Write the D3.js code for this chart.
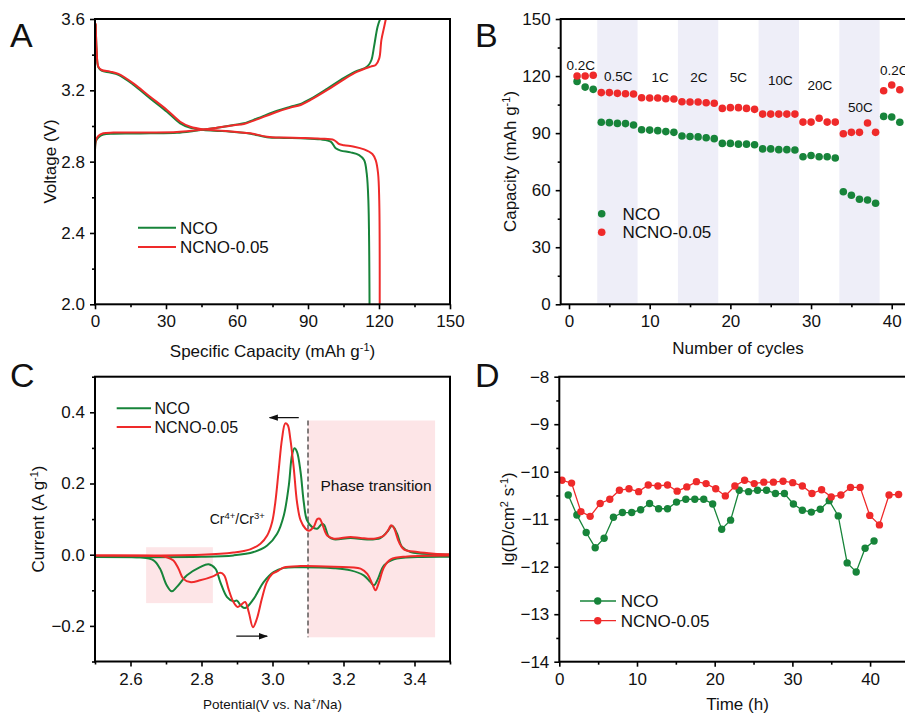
<!DOCTYPE html>
<html>
<head>
<meta charset="utf-8">
<script src="https://cdn.jsdelivr.net/npm/d3@7"></script>
<style>
body { margin: 0; background: #fff; }
svg { font-family: "Liberation Sans", Arial, sans-serif; }
</style>
</head>
<body>
<svg id="fig" width="905" height="715"></svg>
<script>
const GREEN = '#17843a';
const RED = '#ef2a2a';
const seriesNames = ['NCO', 'NCNO-0.05'];

// ---- panel A: charge / discharge profiles [capacity, voltage]
const dischargeNCO = [[0.3,3.57],[0.7,3.42],[1.4,3.33],[2.8,3.31],[6.4,3.30],[9.9,3.287],[16.2,3.232],[23.3,3.155],[30.4,3.08],[36.0,3.015],[40.3,2.99],[45.9,2.978],[53,2.972],[60,2.965],[65.7,2.957],[72.7,2.937],[79.8,2.933],[86.9,2.931],[95.3,2.925],[99.6,2.912],[101.7,2.875],[103.8,2.862],[108,2.852],[111.6,2.837],[113.7,2.809],[114.8,2.735],[115.5,2.585],[116,2.0]];
const dischargeNCNO = [[0.3,3.576],[0.7,3.426],[1.4,3.333],[2.8,3.314],[6.4,3.305],[9.9,3.292],[16.2,3.239],[23.3,3.164],[30.4,3.09],[36.0,3.024],[40.3,2.996],[45.9,2.981],[53,2.974],[60,2.966],[65.7,2.959],[72.7,2.94],[79.8,2.935],[86.9,2.933],[95.3,2.929],[101,2.921],[103.1,2.899],[105.2,2.892],[109.5,2.884],[113.7,2.869],[117.2,2.843],[118.6,2.809],[119.6,2.735],[120.1,2.585],[120.3,2.0]];
const chargeNCO = [[0,2.86],[0.4,2.915],[1.4,2.935],[3.5,2.952],[7.8,2.957],[16.2,2.958],[23.3,2.959],[34.6,2.962],[41.7,2.972],[50.1,2.987],[58.6,3.006],[62.9,3.015],[68.5,3.042],[77,3.086],[82.6,3.108],[86.9,3.124],[91.1,3.152],[98.2,3.21],[105.2,3.27],[110.9,3.31],[114,3.325],[115.5,3.34],[116.8,3.37],[117.9,3.445],[119.4,3.557],[120.5,3.6]];
const chargeNCNO = [[0,2.86],[0.4,2.921],[1.4,2.944],[3.5,2.959],[7.8,2.963],[16.2,2.964],[23.3,2.964],[34.6,2.966],[41.7,2.974],[50.1,2.987],[58.6,3.004],[62.9,3.011],[68.5,3.037],[77,3.08],[82.6,3.103],[86.9,3.118],[91.1,3.146],[98.2,3.202],[105.2,3.262],[110.9,3.305],[116.5,3.333],[118.6,3.342],[120.1,3.379],[121,3.482],[122.2,3.557],[122.9,3.6]];

// ---- panel B: rate capability
const cycles = d3.range(1, 42);
const rateNCO = [117.2,114.2,113.0, 95.7,95.5,95.1,95.0,94.3, 91.8,91.6,91.3,90.8,90.4, 88.5,88.2,88.0,87.6,87.1, 84.6,84.6,84.2,84.2,83.9, 81.7,81.7,81.3,81.3,81.1, 77.6,78.2,77.6,77.6,76.9, 59.2,57.3,55.2,54.8,53.1, 98.8,98.5,95.7];
const rateNCNO = [120.0,120.0,120.4, 111.3,111.3,110.9,110.7,110.6, 108.6,108.5,108.5,108.1,107.9, 106.5,106.4,106.4,106.0,105.7, 103.0,103.4,103.4,103.0,102.5, 100,100,100,100,100, 95.8,95.8,97.8,95.8,95.8, 89.7,90.4,90.4,95.3,90.4, 112.3,115.3,112.8];
const rateBands = [[3.5,8.5],[13.5,18.5],[23.5,28.5],[33.5,38.5]];
const rateLabels = ['0.2C','0.5C','1C','2C','5C','10C','20C','50C','0.2C'];
const rateLabelPos = [[1.45,125.8],[6.1,120.0],[11.3,119.1],[16.1,119.1],[21.0,119.1],[26.2,117.8],[31.1,114.9],[36.1,103.4],[40.3,123.2]];

// ---- panel C: CV curves [potential, current]
const cvUpNCO = [[2.5,-0.0066],[2.8,-0.006],[2.89,-0.002],[2.947,0.0075],[2.985,0.026],[3.013,0.059],[3.032,0.111],[3.046,0.195],[3.055,0.28],[3.062,0.299],[3.069,0.289],[3.079,0.233],[3.088,0.148],[3.097,0.097],[3.111,0.078],[3.126,0.073],[3.14,0.087],[3.146,0.083],[3.159,0.05],[3.173,0.043],[3.22,0.047],[3.267,0.043],[3.304,0.047],[3.323,0.064],[3.337,0.081],[3.351,0.059],[3.365,0.022],[3.389,0.0075],[3.455,0.001],[3.5,0.0]];
const cvUpNCNO = [[2.5,-0.002],[2.8,0.0],[2.89,0.006],[2.937,0.015],[2.966,0.031],[2.985,0.054],[2.999,0.092],[3.008,0.148],[3.017,0.233],[3.027,0.327],[3.036,0.369],[3.043,0.364],[3.05,0.327],[3.06,0.242],[3.069,0.148],[3.079,0.097],[3.093,0.073],[3.102,0.067],[3.116,0.078],[3.126,0.1],[3.133,0.101],[3.14,0.087],[3.154,0.054],[3.173,0.045],[3.22,0.05],[3.248,0.047],[3.286,0.045],[3.314,0.054],[3.328,0.073],[3.334,0.083],[3.342,0.075],[3.356,0.036],[3.37,0.015],[3.408,0.0075],[3.455,0.003],[3.5,0.001]];
const cvDownNCO = [[2.5,-0.0066],[2.627,-0.0075],[2.665,-0.016],[2.683,-0.039],[2.702,-0.086],[2.716,-0.103],[2.73,-0.091],[2.759,-0.058],[2.796,-0.035],[2.82,-0.027],[2.839,-0.039],[2.853,-0.077],[2.872,-0.119],[2.89,-0.131],[2.9,-0.129],[2.911,-0.143],[2.923,-0.15],[2.947,-0.124],[2.975,-0.077],[3.003,-0.049],[3.032,-0.037],[3.079,-0.035],[3.173,-0.038],[3.22,-0.044],[3.257,-0.058],[3.276,-0.077],[3.286,-0.086],[3.297,-0.068],[3.314,-0.03],[3.342,-0.013],[3.408,-0.0066],[3.5,-0.0056]];
const cvDownNCNO = [[2.5,-0.002],[2.683,-0.004],[2.702,-0.007],[2.721,-0.016],[2.735,-0.039],[2.749,-0.068],[2.768,-0.077],[2.796,-0.072],[2.834,-0.06],[2.853,-0.051],[2.864,-0.058],[2.876,-0.096],[2.89,-0.133],[2.902,-0.147],[2.911,-0.141],[2.923,-0.133],[2.933,-0.161],[2.945,-0.204],[2.956,-0.18],[2.97,-0.124],[2.984,-0.077],[2.999,-0.054],[3.013,-0.047],[3.032,-0.036],[3.079,-0.032],[3.173,-0.034],[3.248,-0.039],[3.267,-0.054],[3.281,-0.082],[3.29,-0.1],[3.3,-0.077],[3.314,-0.035],[3.333,-0.013],[3.38,-0.005],[3.5,-0.002]];

// ---- panel D: diffusion coefficient
const timeNCO = [1.15,2.26,3.46,4.62,5.77,6.97,8.12,9.32,10.47,11.62,12.78,13.93,15.09,16.28,17.44,18.59,19.74,20.9,22.05,23.16,24.36,25.51,26.67,27.82,28.97,30.13,31.28,32.44,33.59,34.74,35.9,37.05,38.21,39.36,40.51];
const lgDNCO = [-10.49,-10.91,-11.28,-11.6,-11.4,-10.96,-10.86,-10.86,-10.8,-10.67,-10.78,-10.78,-10.64,-10.58,-10.58,-10.58,-10.68,-11.21,-11.02,-10.39,-10.42,-10.39,-10.39,-10.46,-10.46,-10.68,-10.81,-10.85,-10.79,-10.61,-10.93,-11.92,-12.11,-11.61,-11.46];
const timeNCNO = [0.34,1.58,2.78,3.97,5.26,6.5,7.74,8.97,10.21,11.45,12.69,13.93,15.17,16.41,17.65,18.89,20.13,21.37,22.6,23.85,25.09,26.32,27.56,28.8,30.04,31.28,32.52,33.76,35.0,36.24,37.48,38.72,39.96,41.2,42.44,43.67];
const lgDNCNO = [-10.18,-10.24,-10.84,-10.94,-10.67,-10.58,-10.39,-10.36,-10.42,-10.28,-10.3,-10.28,-10.41,-10.32,-10.21,-10.25,-10.36,-10.51,-10.3,-10.18,-10.25,-10.22,-10.22,-10.2,-10.23,-10.3,-10.46,-10.38,-10.53,-10.49,-10.33,-10.33,-10.92,-11.12,-10.49,-10.48];

const svg = d3.select('#fig');
svg.append('rect').attr('width', 905).attr('height', 715).attr('fill', '#fff');

const defs = svg.append('defs');
defs.append('marker').attr('id', 'arrow')
    .attr('viewBox', '0 0 10 10').attr('refX', 9).attr('refY', 5)
    .attr('markerWidth', 7).attr('markerHeight', 7).attr('orient', 'auto')
    .append('path').attr('d', 'M0,1.5 L10,5 L0,8.5 Z').attr('fill', '#111');

function panel(o) {
    const x = d3.scaleLinear().domain(o.xd).range([o.l, o.r]);
    const y = d3.scaleLinear().domain(o.yd).range([o.b, o.t]);
    defs.append('clipPath').attr('id', 'clip' + o.name)
        .append('rect').attr('x', o.l).attr('y', o.t)
        .attr('width', o.r - o.l).attr('height', o.b - o.t);
    const back = svg.append('g');
    const plot = svg.append('g').attr('clip-path', `url(#clip${o.name})`);
    const axes = svg.append('g');

    axes.append('g').attr('transform', `translate(0,${o.b})`)
        .call(d3.axisBottom(x).tickValues(o.xminor).tickSize(3).tickFormat(''));
    axes.append('g').attr('transform', `translate(0,${o.b})`)
        .call(d3.axisBottom(x).tickValues(o.xmajor).tickSize(5).tickPadding(6).tickFormat(o.xfmt));
    axes.append('g').attr('transform', `translate(${o.l},0)`)
        .call(d3.axisLeft(y).tickValues(o.yminor).tickSize(3).tickFormat(''));
    axes.append('g').attr('transform', `translate(${o.l},0)`)
        .call(d3.axisLeft(y).tickValues(o.ymajor).tickSize(5).tickPadding(5).tickFormat(o.yfmt));
    axes.selectAll('.domain').remove();
    axes.selectAll('.tick line').attr('stroke', '#000').attr('stroke-width', 1.6);
    axes.selectAll('.tick text').attr('fill', '#111').style('font-size', '17px')
        .style('font-family', '"Liberation Sans", Arial, sans-serif');

    axes.append('rect').attr('x', o.l).attr('y', o.t)
        .attr('width', o.r - o.l).attr('height', o.b - o.t)
        .attr('fill', 'none').attr('stroke', '#000').attr('stroke-width', 2);

    svg.append('text').attr('x', o.letter[0]).attr('y', o.letter[1])
        .style('font-size', '34px').attr('fill', '#111').text(o.name);
    return { x, y, back, plot, axes };
}

function superText(sel, parts, size) {
    parts.forEach(p => {
        if (typeof p === 'string') {
            sel.append('tspan').text(p);
        } else {
            sel.append('tspan').attr('baseline-shift', 'super')
                .style('font-size', size).text(p.sup);
        }
    });
}

// ================= A =================
const A = panel({
    name: 'A', l: 95, r: 450, t: 19, b: 304.3, xd: [0, 150], yd: [2.0, 3.6],
    xmajor: d3.range(0, 151, 30), xminor: d3.range(15, 150, 30), xfmt: d3.format('d'),
    ymajor: [2.0, 2.4, 2.8, 3.2, 3.6], yminor: [2.2, 2.6, 3.0, 3.4], yfmt: d3.format('.1f'),
    letter: [10, 47]
});
const lineA = d3.line().x(d => A.x(d[0])).y(d => A.y(d[1])).curve(d3.curveCatmullRom.alpha(0.5));
[[dischargeNCO, GREEN], [chargeNCO, GREEN], [dischargeNCNO, RED], [chargeNCNO, RED]].forEach(([d, c]) => {
    A.plot.append('path').datum(d).attr('d', lineA).attr('fill', 'none')
        .attr('stroke', c).attr('stroke-width', 2);
});
superText(svg.append('text').attr('x', 272.5).attr('y', 357).attr('text-anchor', 'middle')
    .style('font-size', '17px').attr('fill', '#111'), ['Specific Capacity (mAh g', { sup: '-1' }, ')'], '11px');
svg.append('text').attr('transform', 'translate(56,161.5) rotate(-90)').attr('text-anchor', 'middle')
    .style('font-size', '17px').attr('fill', '#111').text('Voltage (V)');
[[GREEN, 227.7], [RED, 247]].forEach(([c, yy], i) => {
    svg.append('line').attr('x1', 138).attr('x2', 176).attr('y1', yy).attr('y2', yy)
        .attr('stroke', c).attr('stroke-width', 2);
    svg.append('text').attr('x', 180).attr('y', yy + 6).style('font-size', '17px')
        .attr('fill', '#111').text(seriesNames[i]);
});

// ================= B =================
const B = panel({
    name: 'B', l: 560.7, r: 924, t: 19, b: 304.3, xd: [-1.03, 44], yd: [0, 150],
    xmajor: d3.range(0, 41, 10), xminor: d3.range(5, 45, 10), xfmt: d3.format('d'),
    ymajor: d3.range(0, 151, 30), yminor: d3.range(15, 150, 30), yfmt: d3.format('d'),
    letter: [475, 47]
});
B.back.selectAll('rect').data(rateBands).join('rect')
    .attr('x', d => B.x(d[0])).attr('width', d => B.x(d[1]) - B.x(d[0]))
    .attr('y', B.y(150)).attr('height', B.y(0) - B.y(150)).attr('fill', '#eeeef8');
B.plot.selectAll('.rn').data(cycles).join('circle').attr('class', 'rn')
    .attr('cx', d => B.x(d)).attr('cy', (d, i) => B.y(rateNCO[i])).attr('r', 3.8).attr('fill', GREEN);
B.plot.selectAll('.rr').data(cycles).join('circle').attr('class', 'rr')
    .attr('cx', d => B.x(d)).attr('cy', (d, i) => B.y(rateNCNO[i])).attr('r', 3.8).attr('fill', RED);
B.plot.selectAll('.rl').data(rateLabels).join('text').attr('class', 'rl')
    .attr('x', (d, i) => B.x(rateLabelPos[i][0])).attr('y', (d, i) => B.y(rateLabelPos[i][1]))
    .attr('dy', '0.35em').attr('text-anchor', 'middle').style('font-size', '13.5px')
    .attr('fill', '#111').text(d => d);
svg.append('text').attr('x', 738).attr('y', 354).attr('text-anchor', 'middle')
    .style('font-size', '17px').attr('fill', '#111').text('Number of cycles');
superText(svg.append('text').attr('transform', 'translate(516,161.5) rotate(-90)').attr('text-anchor', 'middle')
    .style('font-size', '17px').attr('fill', '#111'), ['Capacity (mAh g', { sup: '-1' }, ')'], '11px');
[[GREEN, 213.7], [RED, 232.3]].forEach(([c, yy], i) => {
    svg.append('circle').attr('cx', 601.7).attr('cy', yy).attr('r', 3.8).attr('fill', c);
    svg.append('text').attr('x', 622.5).attr('y', yy + 6).style('font-size', '17px')
        .attr('fill', '#111').text(seriesNames[i]);
});

// ================= C =================
const C = panel({
    name: 'C', l: 95, r: 450, t: 376.7, b: 661.5, xd: [2.5, 3.5], yd: [-0.3, 0.5],
    xmajor: [2.6, 2.8, 3.0, 3.2, 3.4], xminor: [2.5, 2.7, 2.9, 3.1, 3.3, 3.5], xfmt: d3.format('.1f'),
    ymajor: [-0.2, 0.0, 0.2, 0.4], yminor: [-0.3, -0.1, 0.1, 0.3, 0.5], yfmt: d3.format('.1f'),
    letter: [10, 387]
});
const pinkRects = [[2.644, 2.832, -0.136, 0.021], [3.099, 3.458, -0.232, 0.377]];
C.back.selectAll('rect').data(pinkRects).join('rect')
    .attr('x', d => C.x(d[0])).attr('width', d => C.x(d[1]) - C.x(d[0]))
    .attr('y', d => C.y(d[3])).attr('height', d => C.y(d[2]) - C.y(d[3])).attr('fill', '#fde5e7');
C.back.append('line').attr('x1', C.x(3.1)).attr('x2', C.x(3.1)).attr('y1', C.y(0.377)).attr('y2', C.y(-0.232))
    .attr('stroke', '#333').attr('stroke-width', 1.2).attr('stroke-dasharray', '5,3');
const lineC = d3.line().x(d => C.x(d[0])).y(d => C.y(d[1])).curve(d3.curveCatmullRom.alpha(0.5));
[[cvUpNCO, GREEN], [cvDownNCO, GREEN], [cvUpNCNO, RED], [cvDownNCNO, RED]].forEach(([d, c]) => {
    C.plot.append('path').datum(d).attr('d', lineC).attr('fill', 'none')
        .attr('stroke', c).attr('stroke-width', 2);
});
C.plot.append('line').attr('x1', C.x(3.074)).attr('x2', C.x(2.992)).attr('y1', C.y(0.385)).attr('y2', C.y(0.385))
    .attr('stroke', '#111').attr('stroke-width', 1.3).attr('marker-end', 'url(#arrow)');
C.plot.append('line').attr('x1', C.x(2.898)).attr('x2', C.x(2.985)).attr('y1', C.y(-0.229)).attr('y2', C.y(-0.229))
    .attr('stroke', '#111').attr('stroke-width', 1.3).attr('marker-end', 'url(#arrow)');
superText(C.plot.append('text').attr('x', C.x(2.823)).attr('y', C.y(0.099)).attr('dy', '0.35em')
    .style('font-size', '14px').attr('fill', '#111'), ['Cr', { sup: '4+' }, '/Cr', { sup: '3+' }], '9.5px');
C.plot.append('text').attr('x', C.x(3.135)).attr('y', C.y(0.193)).attr('dy', '0.35em')
    .style('font-size', '15.5px').attr('fill', '#111').text('Phase transition');
superText(svg.append('text').attr('x', 272.5).attr('y', 709).attr('text-anchor', 'middle')
    .style('font-size', '13.5px').attr('fill', '#111'), ['Potential(V vs. Na', { sup: '+' }, '/Na)'], '9px');
superText(svg.append('text').attr('transform', 'translate(44,519) rotate(-90)').attr('text-anchor', 'middle')
    .style('font-size', '17px').attr('fill', '#111'), ['Current (A g', { sup: '-1' }, ')'], '11px');
[[GREEN, 408.3], [RED, 427]].forEach(([c, yy], i) => {
    svg.append('line').attr('x1', 116.7).attr('x2', 151).attr('y1', yy).attr('y2', yy)
        .attr('stroke', c).attr('stroke-width', 2);
    svg.append('text').attr('x', 154.5).attr('y', yy + 6).style('font-size', '16px')
        .attr('fill', '#111').text(seriesNames[i]);
});

// ================= D =================
const D = panel({
    name: 'D', l: 559.3, r: 916.7, t: 376.7, b: 661.7, xd: [0, 46], yd: [-14, -8],
    xmajor: d3.range(0, 41, 10), xminor: d3.range(5, 46, 10), xfmt: d3.format('d'),
    ymajor: d3.range(-14, -7, 1), yminor: d3.range(-13.5, -8, 1), yfmt: d3.format('d'),
    letter: [475, 387]
});
const lineD = d3.line().x(d => D.x(d[0])).y(d => D.y(d[1]));
[[timeNCO, lgDNCO, GREEN], [timeNCNO, lgDNCNO, RED]].forEach(([t, v, c]) => {
    const pts = t.map((d, i) => [d, v[i]]);
    D.plot.append('path').datum(pts).attr('d', lineD).attr('fill', 'none')
        .attr('stroke', c).attr('stroke-width', 1.3);
    D.plot.append('g').selectAll('circle').data(pts).join('circle')
        .attr('cx', d => D.x(d[0])).attr('cy', d => D.y(d[1])).attr('r', 3.7).attr('fill', c);
});
svg.append('text').attr('x', 737.5).attr('y', 709.5).attr('text-anchor', 'middle')
    .style('font-size', '17px').attr('fill', '#111').text('Time (h)');
superText(svg.append('text').attr('transform', 'translate(514,519) rotate(-90)').attr('text-anchor', 'middle')
    .style('font-size', '17px').attr('fill', '#111'), ['lg(D/cm', { sup: '2' }, ' s', { sup: '-1' }, ')'], '11px');
[[GREEN, 601], [RED, 620.7]].forEach(([c, yy], i) => {
    svg.append('line').attr('x1', 580).attr('x2', 616).attr('y1', yy).attr('y2', yy)
        .attr('stroke', c).attr('stroke-width', 1.3);
    svg.append('circle').attr('cx', 597.7).attr('cy', yy).attr('r', 3.7).attr('fill', c);
    svg.append('text').attr('x', 620.7).attr('y', yy + 6).style('font-size', '17px')
        .attr('fill', '#111').text(seriesNames[i]);
});
</script>
</body>
</html>
